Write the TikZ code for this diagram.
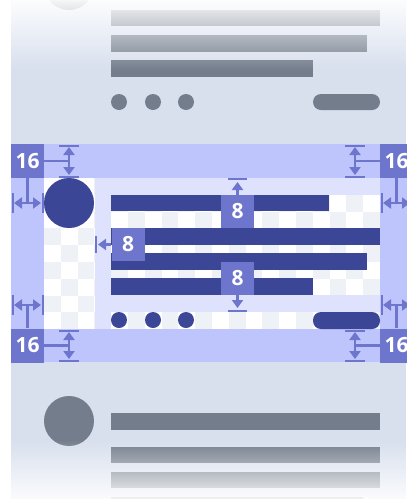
\documentclass[tikz,border=0pt]{standalone}
\usepackage{fontspec}
\setmainfont{Open Sans}
\usetikzlibrary{arrows.meta,fadings}
\definecolor{panelbg}{HTML}{D8E0EE}
\definecolor{slate}{HTML}{737D8C}
\definecolor{padband}{HTML}{BEC4FC}
\definecolor{padinner}{HTML}{DFE2FD}
\definecolor{labelc}{HTML}{6D75CD}
\definecolor{indigo}{HTML}{3B4697}
\definecolor{checkgray}{HTML}{EEF1F6}
\tikzfading[name=fadetop, top color=transparent!0, bottom color=transparent!100]
\tikzfading[name=fadebottom, top color=transparent!100, bottom color=transparent!0]

\begin{document}
\begin{tikzpicture}[x=1pt,y=-1pt,line cap=butt,
  numbox/.style={fill=labelc,text=white,inner sep=0pt,minimum width=33pt,minimum height=34pt,
    font=\fontsize{21}{21}\selectfont\bfseries},
  gapbox/.style={numbox,minimum height=33pt},
  dimarr/.style={draw=labelc,line width=2.6pt,{Triangle[width=11pt,length=8pt]}-{Triangle[width=11pt,length=8pt]}},
  gaparr/.style={draw=labelc,line width=2.6pt,-{Triangle[width=11pt,length=8pt]}},
  stem/.style={draw=labelc,line width=2.6pt},
  tick/.style={draw=labelc,line width=2pt}]
\useasboundingbox (0,0) rectangle (407,499);
\clip (0,0) rectangle (407,499);
\fill[white] (0,0) rectangle (407,499);
\fill[panelbg] (11,-5) rectangle (406,505);

% card above
\fill[slate] (69,-15) circle (25);
\fill[slate] (111,10) rectangle (380,26);
\fill[slate] (111,35) rectangle (367,52);
\fill[slate] (111,60) rectangle (313,77);
\foreach \x in {119,153,186}
  \fill[slate] (\x,102) circle (8);
\fill[slate,rounded corners=8] (313,94) rectangle (380,110);
\fill[white,path fading=fadetop] (0,-5) rectangle (407,70);

% card below
\fill[slate] (69,421) circle (25);
\fill[slate] (111,413) rectangle (380,430);
\fill[slate] (111,447) rectangle (380,463);
\fill[slate] (111,472) rectangle (380,488);
\fill[slate] (111,497) rectangle (363,510);
\fill[white,path fading=fadebottom] (0,440) rectangle (407,506);

% padded card
\fill[padband] (11,144) rectangle (407,362);
\begin{scope}
\clip (44,178) rectangle (380,329);
\fill[white] (44,178) rectangle (380,329);
\foreach \i in {0,...,19}
  \foreach \j in {0,...,8}{
    \pgfmathtruncatemacro\k{\i+\j}
    \ifodd\k \fill[checkgray] ({44+16.8*\i},{178+16.8*\j}) rectangle +(16.8,16.8); \fi
  }
\end{scope}
\fill[padinner] (95,178) rectangle (380,195);
\fill[padinner] (95,178) rectangle (111,329);
\fill[padinner] (95,295) rectangle (380,312);

\fill[indigo] (69,203) circle (25);
\fill[indigo] (111,195) rectangle (329,211);
\fill[indigo] (111,228) rectangle (380,245);
\fill[indigo] (111,253) rectangle (367,270);
\fill[indigo] (111,278) rectangle (313,295);
\foreach \x in {119,153,186}
  \fill[indigo] (\x,320) circle (8);
\fill[indigo,rounded corners=8] (313,312) rectangle (380,329);

\node[numbox] (padTL) at (27.5,161) {16};
\node[numbox] (padTR) at (396.5,161) {16};
\node[numbox] (padBL) at (27.5,345.5) {16};
\node[numbox] (padBR) at (396.5,345.5) {16};
\node[gapbox] (gapTop) at (237.5,211.5) {8};
\node[gapbox] (gapLeft) at (128,244.5) {8};
\node[gapbox] (gapBot) at (237.5,278.5) {8};

\coordinate (dimTL) at (69,161);
\coordinate (dimTR) at (355,161);
\coordinate (dimBL) at (69,345.5);
\coordinate (dimBR) at (355,345.5);
\coordinate (sideTL) at (27.5,203);
\coordinate (sideTR) at (396.5,203);
\coordinate (sideBL) at (27.5,305);
\coordinate (sideBR) at (396.5,305);
\draw[stem] (padTL.east) -- (dimTL);
\draw[stem] (padTR.west) -- (dimTR);
\draw[stem] (padBL.east) -- (dimBL);
\draw[stem] (padBR.west) -- (dimBR);
\draw[stem] (padTL.south) -- (sideTL);
\draw[stem] (padTR.south) -- (sideTR);
\draw[stem] (padBL.north) -- (sideBL);
\draw[stem] (padBR.north) -- (sideBR);

\foreach \x/\ya/\yb in {69/144/178,355/144/178,69/329/362,355/329/362}{
  \draw[dimarr] (\x,\ya+3) -- (\x,\yb-3);
  \draw[tick] (\x-10,\ya+1.5) -- (\x+10,\ya+1.5);
  \draw[tick] (\x-10,\yb-1.5) -- (\x+10,\yb-1.5);
}
\foreach \xa/\xb/\y in {11/44/203,11/44/305,380/413/203,380/413/305}{
  \draw[dimarr] (\xa+3,\y) -- (\xb-3,\y);
  \draw[tick] (\xa+1.5,\y-10) -- (\xa+1.5,\y+10);
  \draw[tick] (\xb-1.5,\y-10) -- (\xb-1.5,\y+10);
}

\coordinate (gapTopEnd) at (237.5,182);
\coordinate (gapLeftEnd) at (98,244.5);
\coordinate (gapBotEnd) at (237.5,308);
\draw[gaparr] (gapTop.north) -- (gapTopEnd);
\draw[gaparr] (gapLeft.west) -- (gapLeftEnd);
\draw[gaparr] (gapBot.south) -- (gapBotEnd);
\draw[tick] (228,179) -- (247,179);
\draw[tick] (96,236) -- (96,253);
\draw[tick] (228,311) -- (247,311);
\end{tikzpicture}
\end{document}
